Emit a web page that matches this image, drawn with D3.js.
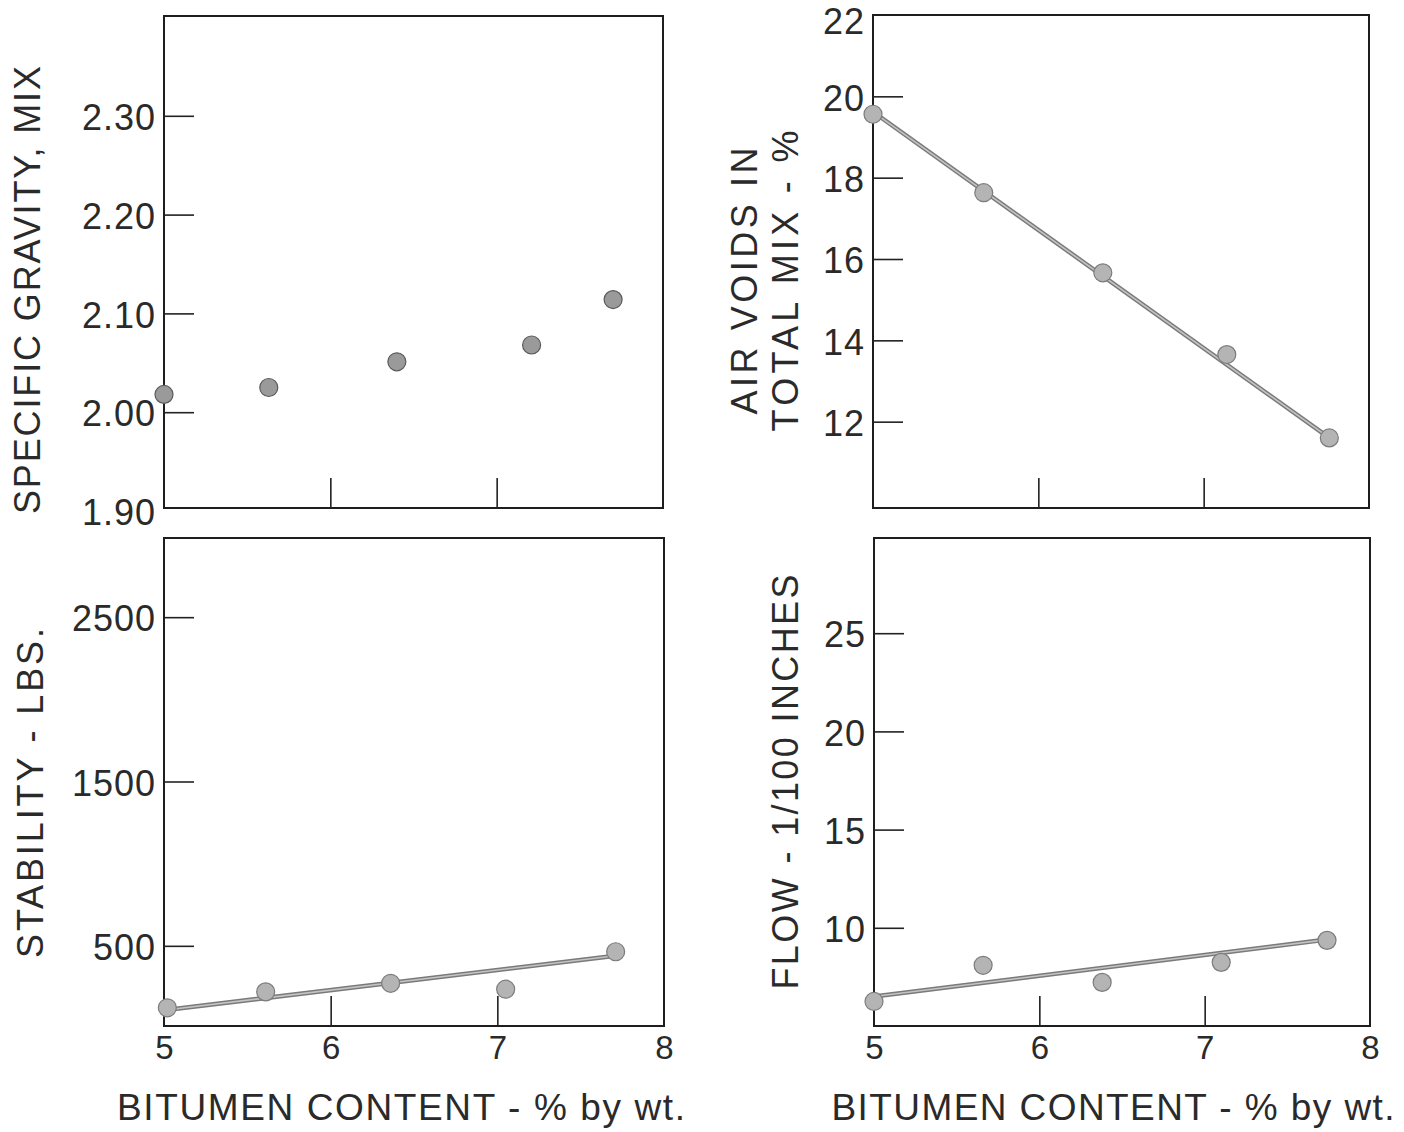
<!DOCTYPE html>
<html>
<head>
<meta charset="utf-8">
<script src="https://cdn.jsdelivr.net/npm/d3@7"></script>
<style>
  html, body { margin: 0; padding: 0; background: #fff; }
  svg { display: block; }
  text { font-family: "Liberation Sans", "DejaVu Sans", sans-serif; fill: #2a2a2a; }
</style>
</head>
<body>
<script>
// ---------------- data ----------------
const xTicks = [5, 6, 7, 8];
const xTitle = "BITUMEN  CONTENT - % by wt.";

const gravityX = [5.00, 5.63, 6.40, 7.21, 7.70];
const gravityY = [2.018, 2.025, 2.051, 2.068, 2.114];
const gravityTicks = [1.90, 2.00, 2.10, 2.20, 2.30];
const gravityDomain = [1.90, 2.40];
const gravityTitle = ["SPECIFIC GRAVITY, MIX"];

const voidsX = [5.00, 5.67, 6.39, 7.14, 7.76];
const voidsY = [19.56, 17.63, 15.66, 13.65, 11.60];
const voidsFitX = [5.00, 7.76];
const voidsFitY = [19.62, 11.60];
const voidsTicks = [12, 14, 16, 18, 20, 22];
const voidsDomain = [10, 22];
const voidsTitle = ["AIR VOIDS IN", "TOTAL MIX - %"];

const stabilityX = [5.02, 5.61, 6.36, 7.05, 7.71];
const stabilityY = [123, 220, 272, 236, 464];
const stabilityFitX = [5.00, 7.71];
const stabilityFitY = [108, 440];
const stabilityTicks = [500, 1500, 2500];
const stabilityDomain = [0, 3000];
const stabilityTitle = ["STABILITY - LBS."];

const flowX = [5.00, 5.66, 6.38, 7.10, 7.74];
const flowY = [6.25, 8.09, 7.22, 8.24, 9.36];
const flowFitX = [5.00, 7.74];
const flowFitY = [6.50, 9.40];
const flowTicks = [10, 15, 20, 25];
const flowDomain = [5, 30];
const flowTitle = ["FLOW - 1/100 INCHES"];

// ---------------- layout ----------------
const W = 1404, H = 1132;
const svg = d3.select("body").append("svg").attr("width", W).attr("height", H);

const panels = [
  { xs: gravityX, ys: gravityY, fx: null, fy: null, ticks: gravityTicks, domain: gravityDomain,
    fmt: d3.format(".2f"), title: gravityTitle,
    frame: { x0: 164, x1: 663, y0: 16, y1: 508 }, yRange: [511, 17],
    titleX: [40], titleY: 290, titleLen: [448], xLabels: false, dark: true },
  { xs: voidsX, ys: voidsY, fx: voidsFitX, fy: voidsFitY, ticks: voidsTicks, domain: voidsDomain,
    fmt: d3.format("d"), title: voidsTitle,
    frame: { x0: 873, x1: 1369, y0: 15, y1: 508 }, yRange: [503, 15],
    titleX: [757, 798], titleY: 281, titleLen: [267, 301], xLabels: false },
  { xs: stabilityX, ys: stabilityY, fx: stabilityFitX, fy: stabilityFitY, ticks: stabilityTicks, domain: stabilityDomain,
    fmt: d3.format("d"), title: stabilityTitle,
    frame: { x0: 164, x1: 664, y0: 538, y1: 1026 }, yRange: [1028, 535],
    titleX: [43], titleY: 793, titleLen: [330], xLabels: true, xTitleCx: 401, xTitleLen: 568 },
  { xs: flowX, ys: flowY, fx: flowFitX, fy: flowFitY, ticks: flowTicks, domain: flowDomain,
    fmt: d3.format("d"), title: flowTitle,
    frame: { x0: 874, x1: 1370, y0: 538, y1: 1026 }, yRange: [1026, 535],
    titleX: [798], titleY: 782, titleLen: [415], xLabels: true, xTitleCx: 1113, xTitleLen: 563 }
];

panels.forEach(p => {
  const f = p.frame;
  const x = d3.scaleLinear().domain([5, 8]).range([f.x0, f.x1]);
  const y = d3.scaleLinear().domain(p.domain).range(p.yRange);
  const g = svg.append("g");

  // frame
  g.append("rect")
    .attr("x", f.x0).attr("y", f.y0)
    .attr("width", f.x1 - f.x0).attr("height", f.y1 - f.y0)
    .attr("fill", "none").attr("stroke", "#1e1e1e").attr("stroke-width", 2);

  // inner y tick marks (only values strictly inside domain)
  const innerY = p.ticks.filter(v => v > p.domain[0] && v < p.domain[1]);
  const yMarks = g.append("g").attr("transform", `translate(${f.x0},0)`)
    .call(d3.axisRight(y).tickValues(innerY).tickSize(30).tickFormat(""));
  yMarks.select(".domain").remove();
  yMarks.selectAll("line").attr("stroke", "#222").attr("stroke-width", 1.6);

  // y tick labels
  const yLab = g.append("g").attr("transform", `translate(${f.x0 - 8},0)`)
    .call(d3.axisLeft(y).tickValues(p.ticks).tickSize(0).tickPadding(0).tickFormat(p.fmt));
  yLab.select(".domain").remove();
  yLab.selectAll("text")
    .attr("font-size", 36).attr("fill", "#2a2a2a")
    .attr("font-family", "Liberation Sans, sans-serif")
    .attr("dy", "0.38em").attr("letter-spacing", 1);
  // keep labels inside the page: nudge any label whose box pokes above the top edge
  yLab.selectAll(".tick").each(function () {
    const t = d3.select(this).select("text");
    const bb = this.getBBox();
    const tr = this.transform.baseVal.consolidate();
    const top = (tr ? tr.matrix.f : 0) + bb.y;
    if (top < 0) t.attr("y", -top + 1);
  });

  // inner x tick marks at 6, 7
  const innerX = xTicks.filter(v => v > 5 && v < 8);
  const xMarks = g.append("g").attr("transform", `translate(0,${f.y1})`)
    .call(d3.axisTop(x).tickValues(innerX).tickSize(30).tickFormat(""));
  xMarks.select(".domain").remove();
  xMarks.selectAll("line").attr("stroke", "#222").attr("stroke-width", 1.6);

  if (p.xLabels) {
    const xLab = g.append("g").attr("transform", `translate(0,${f.y1})`)
      .call(d3.axisBottom(x).tickValues(xTicks).tickSize(0).tickPadding(10).tickFormat(d3.format("d")));
    xLab.select(".domain").remove();
    xLab.selectAll("text")
      .attr("font-size", 33).attr("fill", "#2a2a2a")
      .attr("font-family", "Liberation Sans, sans-serif");
    g.append("text")
      .attr("x", p.xTitleCx).attr("y", 1120)
      .attr("text-anchor", "middle")
      .attr("font-size", 37)
      .attr("textLength", p.xTitleLen).attr("lengthAdjust", "spacing")
      .text(xTitle);
  }

  // y titles (rotated)
  p.title.forEach((t, i) => {
    g.append("text")
      .attr("transform", `translate(${p.titleX[i]},${p.titleY}) rotate(-90)`)
      .attr("text-anchor", "middle")
      .attr("font-size", 36)
      .attr("textLength", p.titleLen[i]).attr("lengthAdjust", "spacing")
      .text(t);
  });

  // fit line
  if (p.fx) {
    const pts = p.fx.map((v, i) => [x(v), y(p.fy[i])]);
    const line = d3.line();
    g.append("path").attr("d", line(pts))
      .attr("fill", "none").attr("stroke", "#7a7a7a").attr("stroke-width", 4.5);
    g.append("path").attr("d", line(pts))
      .attr("fill", "none").attr("stroke", "#c4c4c4").attr("stroke-width", 1.6);
  }

  // points
  g.selectAll("circle.pt").data(p.xs.map((v, i) => [v, p.ys[i]]))
    .join("circle").attr("class", "pt")
    .attr("cx", d => x(d[0])).attr("cy", d => y(d[1]))
    .attr("r", 9)
    .attr("fill", p.dark ? "#9a9a9a" : "#b4b4b4")
    .attr("stroke", p.dark ? "#5a5a5a" : "#7c7c7c")
    .attr("stroke-width", 1.2);
});
</script>
</body>
</html>
